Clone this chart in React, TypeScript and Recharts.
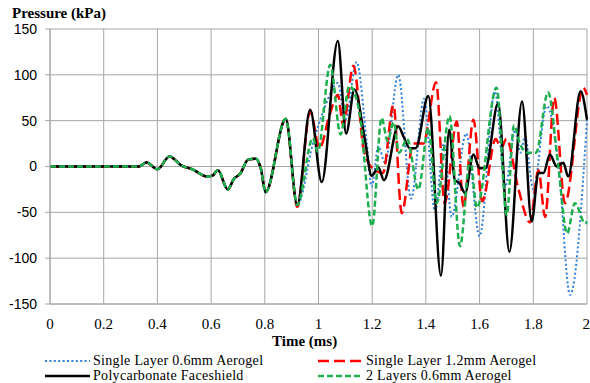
import { LineChart, Line, XAxis, YAxis, CartesianGrid } from "recharts";

// shared trace before the four measurements split apart (~0.92 ms)
const earlyT = [0, 0.33, 0.36, 0.4, 0.445, 0.49, 0.53, 0.585, 0.605, 0.625, 0.662, 0.685, 0.708, 0.738, 0.767, 0.785, 0.803, 0.878];
const earlyV = [0, 0, 4.5, -3, 11, 1, -3, -11, -10, -4, -25, -13.5, -8, 7.5, 8.5, -2, -28, 52];

const blueT = [0.921, 0.979, 1.02, 1.072, 1.1, 1.142, 1.18, 1.198, 1.223, 1.248, 1.297, 1.345, 1.393, 1.434, 1.467, 1.496, 1.55, 1.6, 1.657, 1.695, 1.733, 1.752, 1.769, 1.8, 1.85, 1.893, 1.937, 2.0];
const blueV = [-42, 25, 62, 91, 51, 114, 25, -22, 22, 4, 100, -35, 74, -49, 25, -55, 36, -76, 82, -22, 40, 15, 33, -25, 66, 5, -140, 51];

const redT = [0.921, 0.969, 1.004, 1.04, 1.072, 1.092, 1.13, 1.17, 1.21, 1.24, 1.279, 1.31, 1.353, 1.39, 1.438, 1.47, 1.515, 1.54, 1.577, 1.61, 1.66, 1.68, 1.7, 1.745, 1.788, 1.819, 1.844, 1.878, 1.918, 1.986, 2.0];
const redV = [-44, 60, 20, 55, 78, 45, 110, 16, -4, -7, 67, -51, 25, 25, 92, -40, 49, -44, 51, -38, 30, 20, 30, -25, -61, -4, -55, 75, -40, 86, 78];

const blackT = [0.921, 0.969, 1.012, 1.072, 1.103, 1.134, 1.173, 1.198, 1.223, 1.244, 1.297, 1.316, 1.34, 1.362, 1.409, 1.456, 1.487, 1.508, 1.525, 1.546, 1.577, 1.6, 1.622, 1.669, 1.711, 1.758, 1.794, 1.819, 1.838, 1.862, 1.887, 1.912, 1.93, 1.976, 2.0];
const blackV = [-42, 62, -17, 137, 36, 84, 29, -10, -1, -15, 44, 33, 20, 20, 77, -119, 40, -15, -18, -29, 13, -2, -2, 69, -93, 71, -60, -7, -7, 13, 0, 4, -11, 82, 51];

const greenT = [0.921, 0.979, 0.997, 1.044, 1.082, 1.115, 1.153, 1.2, 1.235, 1.257, 1.28, 1.3, 1.33, 1.372, 1.409, 1.44, 1.488, 1.527, 1.565, 1.59, 1.663, 1.701, 1.728, 1.75, 1.78, 1.81, 1.855, 1.893, 1.926, 1.955, 1.993, 2.0];
const greenV = [-42, 31, 16, 111, 35, 88, 58, -65, 53, 28, 48, 15, 30, -25, 42, -40, 55, -87, 8, -45, 86, -53, 45, 25, 15, 15, 81, 0, -73, -40, -62, -60];

const xTicks = [0, 0.2, 0.4, 0.6, 0.8, 1, 1.2, 1.4, 1.6, 1.8, 2];
const yTicks = [-150, -100, -50, 0, 50, 100, 150];

const rows = (ts: number[], vs: number[]) =>
  earlyT.map((t, i) => ({ t, v: earlyV[i] })).concat(ts.map((t, i) => ({ t, v: vs[i] })));

const series = [
  { name: "Single Layer 0.6mm Aerogel", data: rows(blueT, blueV), color: "#2F80D8", dash: "2 2.4", width: 2 },
  { name: "Single Layer 1.2mm Aerogel", data: rows(redT, redV), color: "#FF0000", dash: "11 5", width: 2.5 },
  { name: "Polycarbonate Faceshield", data: rows(blackT, blackV), color: "#000000", dash: undefined, width: 2.5 },
  { name: "2 Layers 0.6mm Aerogel", data: rows(greenT, greenV), color: "#1DAF4E", dash: "6 3", width: 2.5 },
];

const serif = "Liberation Serif, Times New Roman, DejaVu Serif, serif";
const sans = "Liberation Sans, Arial, sans-serif";

function LegendItem({ s, left, top }: { s: (typeof series)[number]; left: number; top: number }) {
  return (
    <div style={{ position: "absolute", left, top, display: "flex", alignItems: "center", height: 14 }}>
      <svg width={45} height={8} style={{ marginRight: 3 }}>
        <line x1={0} y1={4} x2={45} y2={4} stroke={s.color} strokeWidth={s.width} strokeDasharray={s.dash} />
      </svg>
      <span style={{ fontFamily: serif, fontSize: 14, lineHeight: "14px", color: "#000", whiteSpace: "nowrap", letterSpacing: 0.3 }}>
        {s.name}
      </span>
    </div>
  );
}

export default function App() {
  return (
    <div style={{ position: "absolute", left: 0, top: 0, width: 590, height: 383, background: "#fff" }}>
      <div style={{ position: "absolute", left: 12, top: 6, fontFamily: serif, fontWeight: "bold", fontSize: 15, lineHeight: 1 }}>
        Pressure (kPa)
      </div>
      <LineChart width={590} height={383} margin={{ top: 29, right: 3, left: 0, bottom: 59 }}>
        <CartesianGrid stroke="#A6A6A6" strokeWidth={1} />
        <XAxis
          type="number"
          dataKey="t"
          domain={[0, 2]}
          ticks={xTicks}
          tickLine={false}
          tickSize={6}
          tickMargin={8}
          height={20}
          stroke="#A6A6A6"
          tick={{ fill: "#000", fontFamily: serif, fontSize: 15 }}
          allowDuplicatedCategory={false}
        />
        <YAxis
          type="number"
          domain={[-150, 150]}
          ticks={yTicks}
          width={50}
          tickSize={5}
          tickMargin={8}
          stroke="#A6A6A6"
          tick={{ fill: "#000", fontFamily: sans, fontSize: 14 }}
        />
        {series.map((s) => (
          <Line
            key={s.name}
            data={s.data}
            dataKey="v"
            type="monotone"
            stroke={s.color}
            strokeWidth={s.width}
            strokeDasharray={s.dash}
            dot={false}
            activeDot={false}
            isAnimationActive={false}
          />
        ))}
      </LineChart>
      <div style={{ position: "absolute", left: 272, top: 334, fontFamily: serif, fontWeight: "bold", fontSize: 15, lineHeight: 1 }}>
        Time (ms)
      </div>
      <LegendItem s={series[0]} left={45} top={354} />
      <LegendItem s={series[1]} left={318} top={354} />
      <LegendItem s={series[2]} left={45} top={369} />
      <LegendItem s={series[3]} left={318} top={369} />
    </div>
  );
}
